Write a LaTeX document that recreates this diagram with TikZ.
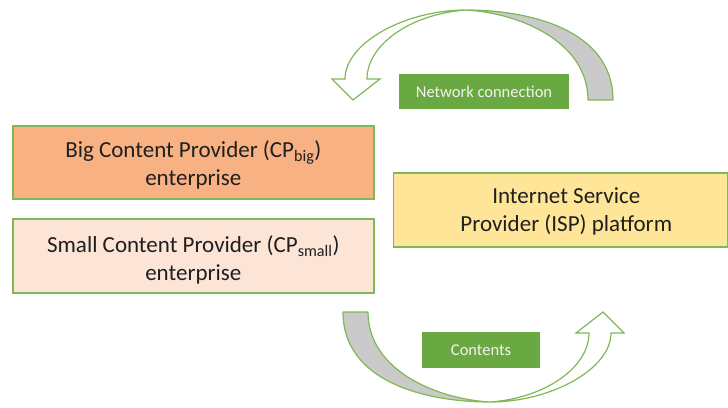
\documentclass[tikz,border=0pt]{standalone}
\usepackage{fontspec}
\setmainfont{Carlito}
\definecolor{bordergreen}{HTML}{7FB856}
\definecolor{labelgreen}{HTML}{6AA842}
\definecolor{bigfill}{HTML}{F7B183}
\definecolor{smallfill}{HTML}{FCE4D6}
\definecolor{ispfill}{HTML}{FFE597}
\definecolor{backgray}{HTML}{CACACA}
\tikzset{
  box/.style={draw=bordergreen, line width=1.6pt, anchor=north west, inner sep=0pt},
  boxtext/.style={align=center, inner sep=0pt, text=black!88,
    font=\fontsize{23}{28}\selectfont},
  lbl/.style={fill=labelgreen, text=white!95!black, inner sep=0pt,
    font=\fontsize{16.5}{18}\selectfont},
  backface/.style={fill=backgray, draw=bordergreen, line width=1.2pt, line join=round},
  frontface/.style={fill=white, draw=bordergreen, line width=1.2pt, line join=miter},
}
\begin{document}
\begin{tikzpicture}[x=1pt,y=-1pt]
\useasboundingbox (0,0) rectangle (728,407);
% boxes
\node[box, fill=bigfill, minimum width=361pt, minimum height=73pt] (big) at (12,125) {};
\node[boxtext] (bigtext) at ([yshift=-3pt]big.center)
  {Big Content Provider (CP\textsubscript{big})\\enterprise};
\node[box, fill=smallfill, minimum width=361pt, minimum height=74pt] (small) at (12,218) {};
\node[boxtext] (smalltext) at ([yshift=-4pt]small.center)
  {Small Content Provider (CP\textsubscript{small})\\enterprise};
\node[box, fill=ispfill, minimum width=334pt, minimum height=74pt] (isp) at (392.5,172) {};
\node[boxtext] (isptext) at ([xshift=6pt,yshift=-2pt]isp.center)
  {Internet Service\\Provider (ISP) platform};
% top curved arrow
\coordinate (ttop) at (466,10);
\filldraw[backface] (613,100) .. controls (613,30) and (530,10) .. (ttop)
  .. controls (520,13) and (588,42) .. (588,100) -- cycle;
\filldraw[frontface] (ttop) .. controls (405,10) and (345,43) .. (345,79)
  -- (332,79) -- (353,100) -- (380,79) -- (367,79)
  .. controls (367,45) and (410,14) .. (ttop) -- cycle;
% bottom curved arrow (same shape turned half round)
\begin{scope}[rotate around={180:(478,206)}]
\coordinate (btop) at (466,10);
\filldraw[backface] (613,100) .. controls (613,30) and (530,10) .. (btop)
  .. controls (520,13) and (588,42) .. (588,100) -- cycle;
\filldraw[frontface] (btop) .. controls (405,10) and (345,43) .. (345,79)
  -- (332,79) -- (353,100) -- (380,79) -- (367,79)
  .. controls (367,45) and (410,14) .. (btop) -- cycle;
\end{scope}
% labels
\node[lbl, minimum width=170pt, minimum height=35pt] (net) at (484,91.5) {Network connection};
\node[lbl, minimum width=118pt, minimum height=36pt] (cont) at (481,350) {Contents};
\end{tikzpicture}
\end{document}
